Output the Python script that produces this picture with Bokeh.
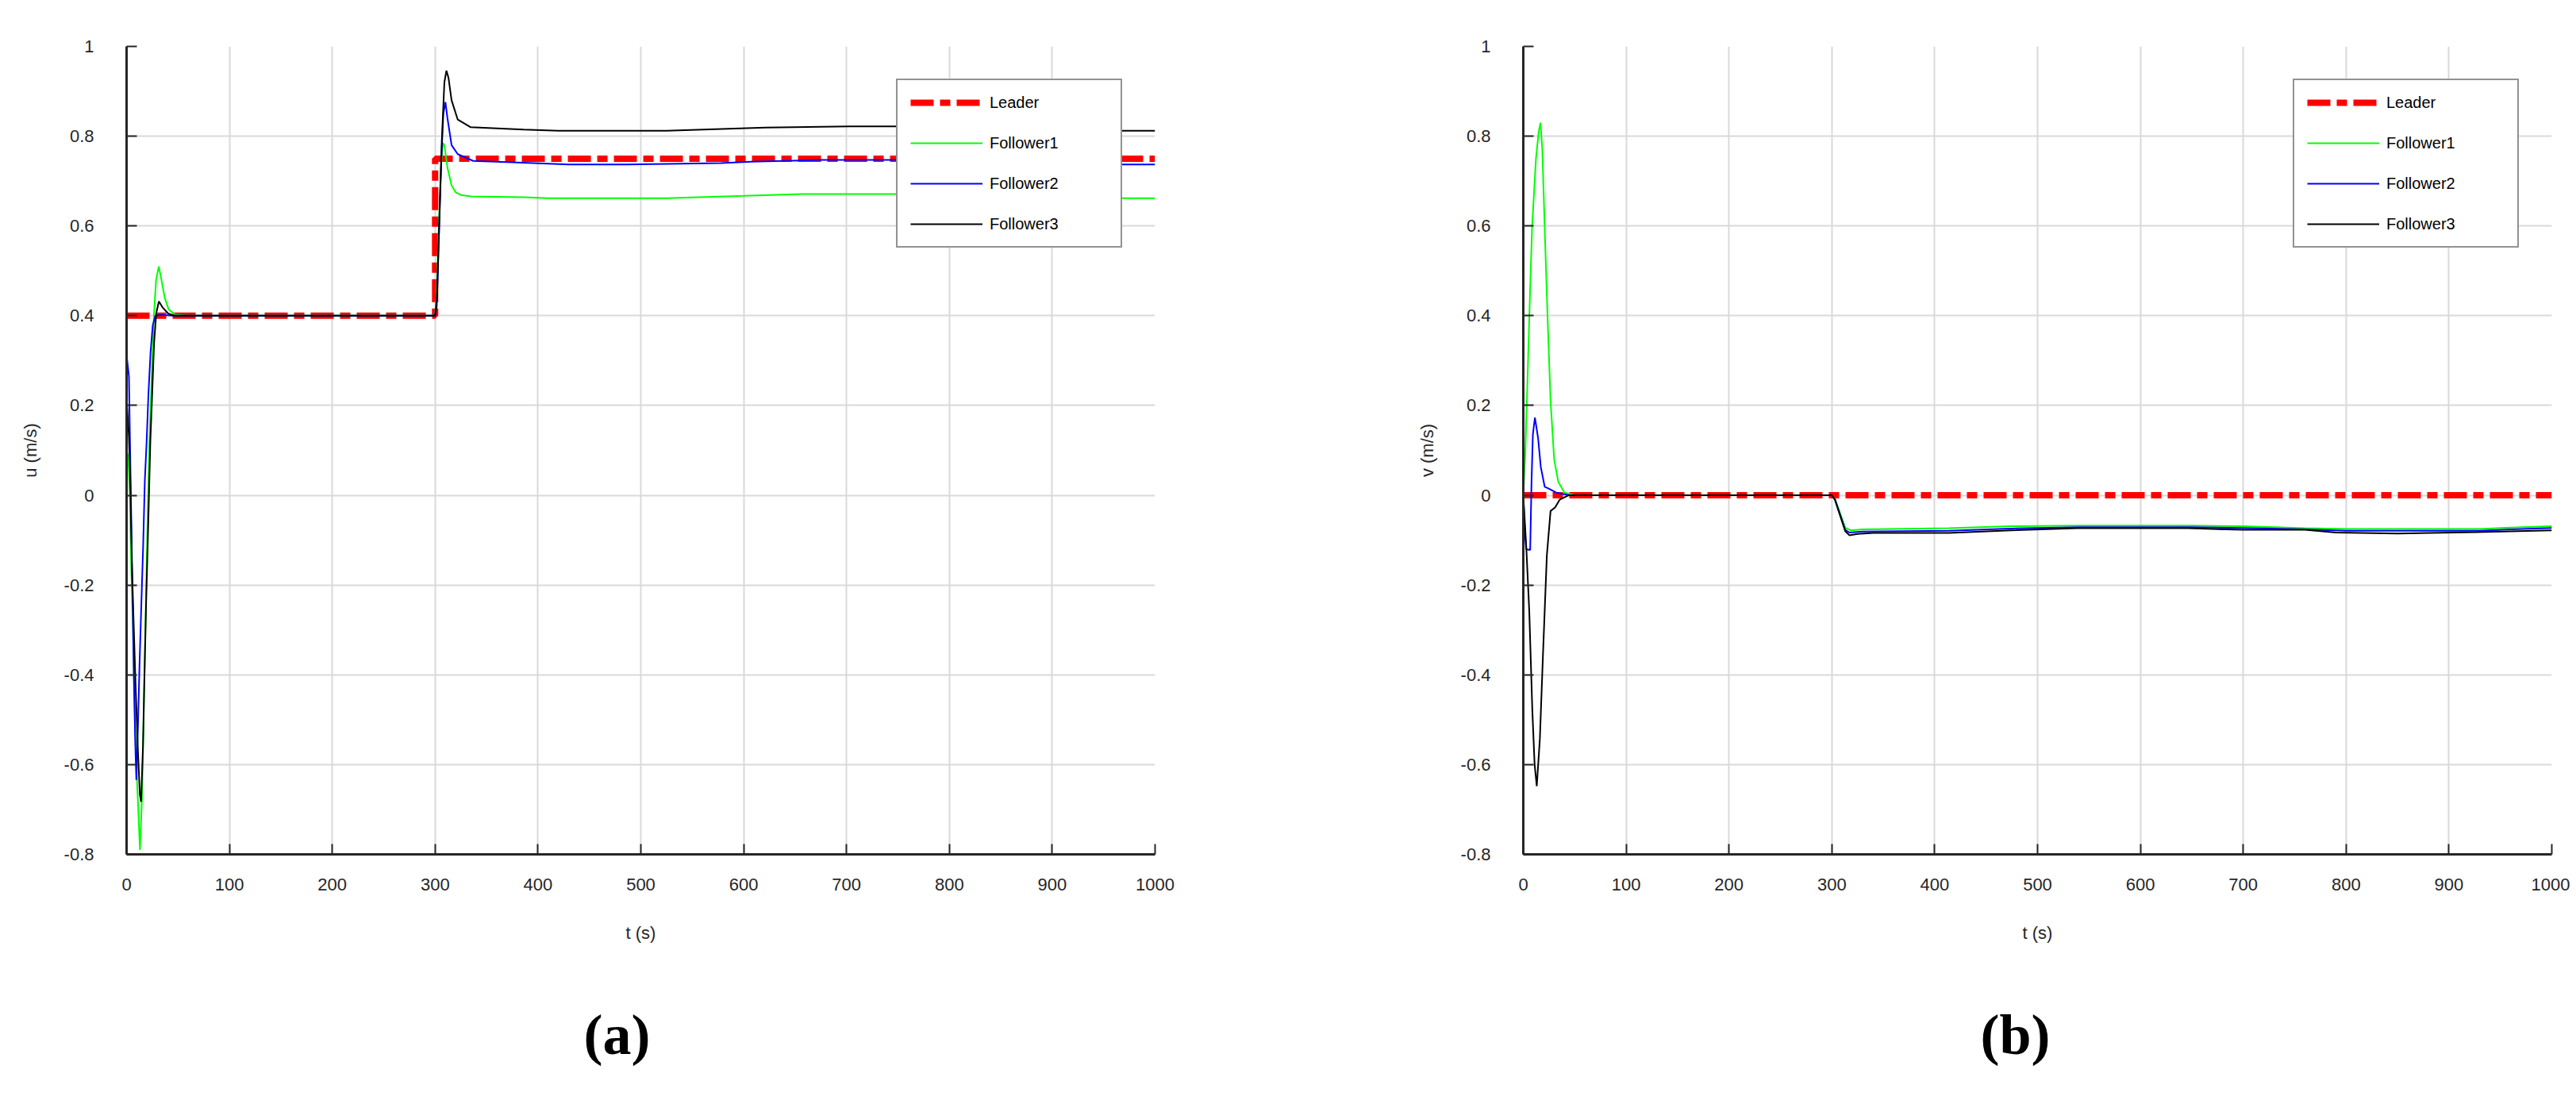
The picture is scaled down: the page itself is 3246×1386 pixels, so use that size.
from bokeh.plotting import figure
from bokeh.layouts import row
from bokeh.models import FixedTicker, Legend, LegendItem, Title
from bokeh.embed import file_html
from bokeh.resources import INLINE

# ---------------- data ----------------
x_ticks = [0, 100, 200, 300, 400, 500, 600, 700, 800, 900, 1000]
x_tick_labels = ["0", "100", "200", "300", "400", "500", "600", "700", "800", "900", "1000"]
y_ticks = [-0.8, -0.6, -0.4, -0.2, 0, 0.2, 0.4, 0.6, 0.8, 1]
y_tick_labels = ["-0.8", "-0.6", "-0.4", "-0.2", "0", "0.2", "0.4", "0.6", "0.8", "1"]
series_names = ["Leader", "Follower1", "Follower2", "Follower3"]

# (a) surge velocity u
leader_u_t = [0, 300, 300, 1000]
leader_u = [0.4, 0.4, 0.75, 0.75]

f1_u_t = [0, 1.5, 3.3, 4.4, 6.0, 7.3, 9.1, 11.2, 13.0, 15.0, 16.8, 18.4, 20.2, 22.2, 24.6, 26.6,
          28.7, 31.3, 33.9, 37.0, 40.9, 47.0, 60, 300, 301.5, 303, 304.5, 306, 307.5, 309, 312,
          316, 320, 325, 335, 386, 410, 525, 600, 657, 750, 850, 970, 1000]
f1_u = [0.094, 0.09, -0.006, -0.15, -0.27, -0.42, -0.584, -0.69, -0.79, -0.674, -0.467, -0.286,
        -0.078, 0.12, 0.274, 0.40, 0.48, 0.51, 0.48, 0.441, 0.414, 0.403, 0.4, 0.4, 0.45, 0.56,
        0.66, 0.74, 0.785, 0.78, 0.73, 0.69, 0.675, 0.669, 0.666, 0.664, 0.662, 0.662, 0.667,
        0.671, 0.671, 0.668, 0.662, 0.662]

f2_u_t = [0, 2.3, 3.3, 4.6, 5.9, 7.2, 8.5, 9.5, 11.1, 12.6, 14.4, 16.2, 17.7, 19.5, 21.3, 23.3,
          25.4, 28.0, 33.7, 45, 300, 302, 304, 306, 308, 310, 312, 316, 322, 337, 375, 430, 487,
          578, 607, 676, 750, 860, 970, 1000]
f2_u = [0.313, 0.265, 0.12, -0.06, -0.24, -0.42, -0.557, -0.634, -0.511, -0.376, -0.24, -0.106,
        0.03, 0.12, 0.228, 0.318, 0.378, 0.40, 0.402, 0.4, 0.4, 0.45, 0.6, 0.75, 0.85, 0.876,
        0.84, 0.78, 0.76, 0.745, 0.742, 0.737, 0.737, 0.74, 0.743, 0.747, 0.747, 0.742, 0.737,
        0.737]

f3_u_t = [0, 2.3, 3.6, 5.1, 6.9, 8.7, 10.8, 12.9, 14.1, 16.0, 17.2, 19.0, 21.1, 23.1, 24.9, 26.7,
          28.8, 31.4, 35.2, 40.4, 46.7, 300, 301.5, 303.5, 306.5, 309, 311, 313, 316, 322, 334.6,
          386, 420, 525, 621, 703, 750, 860, 970, 1000]
f3_u = [0.218, 0.13, 0.03, -0.15, -0.287, -0.42, -0.557, -0.666, -0.683, -0.557, -0.42, -0.24,
        -0.06, 0.12, 0.228, 0.337, 0.405, 0.432, 0.418, 0.405, 0.4, 0.4, 0.42, 0.57, 0.79, 0.92,
        0.946, 0.93, 0.88, 0.837, 0.82, 0.815, 0.812, 0.812, 0.819, 0.822, 0.822, 0.818, 0.812,
        0.812]

# (b) sway velocity v
leader_v_t = [0, 1000]
leader_v = [0, 0]

f1_v_t = [0, 2, 4, 6, 8.5, 12.3, 15, 16.7, 18.5, 21, 24, 26.5, 30, 34, 40, 50, 300, 303, 308,
          313, 318, 330, 414, 474, 540, 650, 700, 760, 800, 930, 960, 1000]
f1_v = [0, 0.1, 0.25, 0.41, 0.595, 0.75, 0.81, 0.83, 0.77, 0.58, 0.37, 0.21, 0.08, 0.03, 0.006,
        0, 0, -0.008, -0.04, -0.072, -0.078, -0.076, -0.0735, -0.069, -0.0676, -0.0676, -0.069,
        -0.0735, -0.075, -0.075, -0.072, -0.069]

f2_v_t = [0, 1.5, 2.8, 6.7, 8, 9.3, 11.3, 14.4, 17, 20.8, 24.7, 32, 45, 300, 303, 308, 313, 317,
          330, 414, 474, 540, 650, 700, 760, 800, 930, 960, 1000]
f2_v = [0, -0.08, -0.12, -0.122, 0.03, 0.135, 0.173, 0.127, 0.063, 0.019, 0.015, 0.006, 0, 0,
        -0.009, -0.043, -0.077, -0.083, -0.081, -0.079, -0.074, -0.071, -0.071, -0.073, -0.076,
        -0.079, -0.079, -0.076, -0.073]

f3_v_t = [0, 3, 5.8, 8.8, 11, 13.1, 16.1, 19.1, 22.9, 26.5, 31, 35.3, 44, 300, 303, 308, 313, 317,
          325, 340, 414, 474, 539, 646, 700, 760, 790, 850, 927, 1000]
f3_v = [0, -0.12, -0.258, -0.48, -0.6, -0.648, -0.543, -0.357, -0.134, -0.035, -0.027, -0.01, 0,
        0, -0.01, -0.045, -0.08, -0.089, -0.086, -0.084, -0.084, -0.078, -0.0735, -0.0735, -0.077,
        -0.077, -0.083, -0.085, -0.082, -0.078]

# ---------------- styling ----------------
FONT = "Liberation Sans"
SERIF = "Liberation Serif"
AX = "#262626"
GRID = "#d9d9d9"
HEIGHT = 1380


def panel(width, b_left, b_right, ylabel, tag, curves):
    p = figure(width=width, height=HEIGHT, x_range=(0, 1000), y_range=(-0.8, 1),
               output_backend="svg", toolbar_location=None,
               min_border_left=b_left, min_border_right=b_right,
               min_border_top=58, min_border_bottom=HEIGHT - 1076)
    p.outline_line_color = None
    p.background_fill_color = "white"
    p.border_fill_color = "white"

    renderers = []
    (lt, lv), rest = curves[0], curves[1:]
    renderers.append(p.line(lt, lv, line_color="#ff0000", line_width=8, line_dash="29 8 13 8"))
    for (t, v), col in zip(rest, ["#00ff00", "#0000ff", "#000000"]):
        renderers.append(p.line(t, v, line_color=col, line_width=2))

    p.xaxis.ticker = FixedTicker(ticks=x_ticks)
    p.yaxis.ticker = FixedTicker(ticks=y_ticks)
    p.xaxis.major_label_overrides = dict(zip(x_ticks, x_tick_labels))
    p.yaxis.major_label_overrides = dict(zip(y_ticks, y_tick_labels))
    for ax in (p.xaxis[0], p.yaxis[0]):
        ax.axis_line_color = AX
        ax.axis_line_width = 3
        ax.major_tick_line_color = AX
        ax.major_tick_line_width = 2
        ax.major_tick_in = 13
        ax.major_tick_out = 0
        ax.minor_tick_line_color = None
        ax.major_label_text_font = FONT
        ax.major_label_text_font_size = "22px"
        ax.major_label_text_color = AX
        ax.axis_label_text_font = FONT
        ax.axis_label_text_font_size = "22px"
        ax.axis_label_text_font_style = "normal"
        ax.axis_label_text_color = AX
    p.xaxis.axis_label = "t (s)"
    p.yaxis.axis_label = ylabel
    p.xaxis.major_label_standoff = 30
    p.xaxis.axis_label_standoff = 38
    p.yaxis.major_label_standoff = 41
    p.yaxis.axis_label_standoff = 27

    p.xgrid.ticker = FixedTicker(ticks=x_ticks)
    p.ygrid.ticker = FixedTicker(ticks=y_ticks)
    p.grid.grid_line_color = GRID
    p.grid.grid_line_width = 2

    legend = Legend(items=[LegendItem(label=n, renderers=[r]) for n, r in zip(series_names, renderers)],
                    location="top_right", margin=41, padding=16, spacing=27,
                    glyph_width=91, glyph_height=24, label_height=24, label_width=149,
                    label_standoff=9, border_line_color=AX, border_line_width=2,
                    background_fill_color="white", background_fill_alpha=1,
                    label_text_font=FONT, label_text_font_size="20px", label_text_color="black")
    p.add_layout(legend)

    # blank spacer between the x axis and the panel tag, then the tag itself
    p.add_layout(Title(text=" ", text_font_size="1px", standoff=63), "below")
    p.add_layout(Title(text=tag, align="left", offset=576, text_font=SERIF,
                       text_font_size="72px", text_font_style="bold", text_color="black",
                       standoff=10), "below")
    return p


pa = panel(1708, 159, 253, "u (m/s)", "(a)",
           [(leader_u_t, leader_u), (f1_u_t, f1_u), (f2_u_t, f2_u), (f3_u_t, f3_u)])
pb = panel(1530, 211, 23, "v (m/s)", "(b)",
           [(leader_v_t, leader_v), (f1_v_t, f1_v), (f2_v_t, f2_v), (f3_v_t, f3_v)])

layout = row(pa, pb, spacing=0)
open("out.html", "w").write(file_html(layout, INLINE))
